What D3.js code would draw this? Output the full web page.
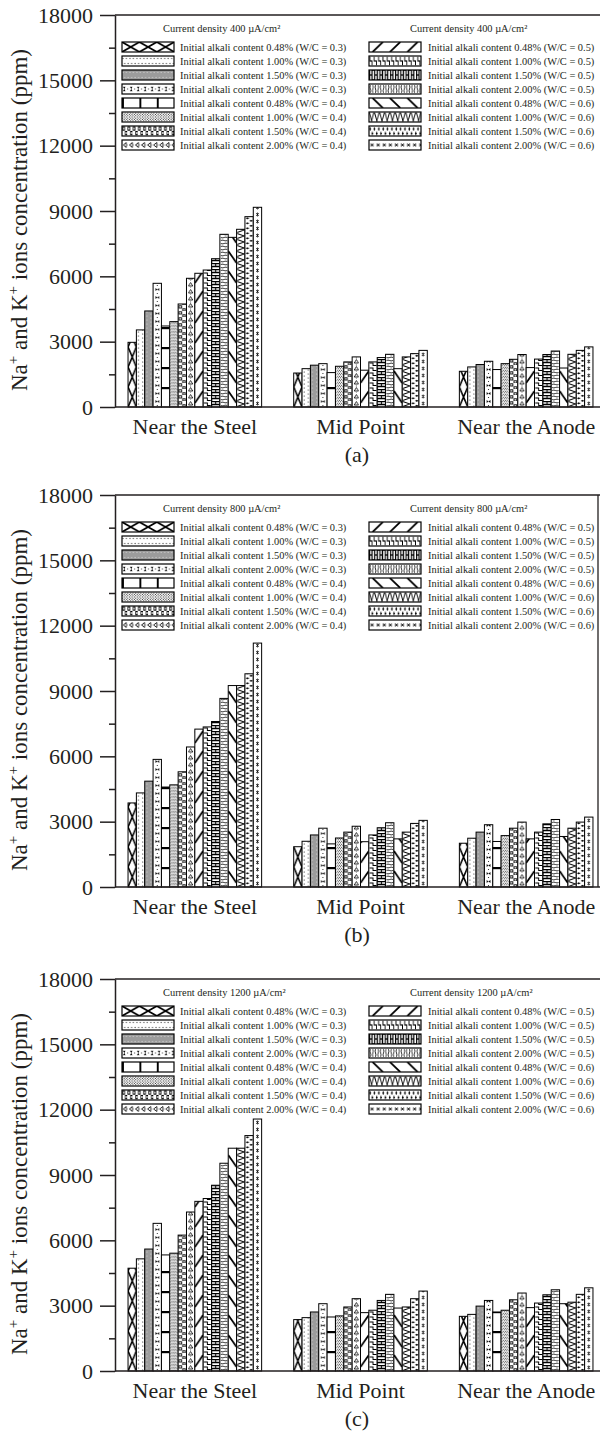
<!DOCTYPE html>
<html>
<head>
<meta charset="utf-8">
<script src="https://cdn.jsdelivr.net/npm/d3@7"></script>
<style>
  body { margin: 0; background: #fff; }
  svg { display: block; font-family: "Liberation Serif", "Times New Roman", serif; }
</style>
</head>
<body>
<svg id="chart" width="602" height="1434"></svg>
<script>
// categories and labels
var categories = ["Near the Steel", "Mid Point", "Near the Anode"];
var seriesLabels = [
    "Initial alkali content 0.48% (W/C = 0.3)",
    "Initial alkali content 1.00% (W/C = 0.3)",
    "Initial alkali content 1.50% (W/C = 0.3)",
    "Initial alkali content 2.00% (W/C = 0.3)",
    "Initial alkali content 0.48% (W/C = 0.4)",
    "Initial alkali content 1.00% (W/C = 0.4)",
    "Initial alkali content 1.50% (W/C = 0.4)",
    "Initial alkali content 2.00% (W/C = 0.4)",
    "Initial alkali content 0.48% (W/C = 0.5)",
    "Initial alkali content 1.00% (W/C = 0.5)",
    "Initial alkali content 1.50% (W/C = 0.5)",
    "Initial alkali content 2.00% (W/C = 0.5)",
    "Initial alkali content 0.48% (W/C = 0.6)",
    "Initial alkali content 1.00% (W/C = 0.6)",
    "Initial alkali content 1.50% (W/C = 0.6)",
    "Initial alkali content 2.00% (W/C = 0.6)"
];
var yTicks = [0, 3000, 6000, 9000, 12000, 15000, 18000];
var yMinorTicks = [1500, 4500, 7500, 10500, 13500, 16500];
var densities = ["400", "800", "1200"];
var captions = ["(a)", "(b)", "(c)"];

// values per panel: [near steel, mid point, near anode], 16 series each
var valuesA = [
    [2970, 3540, 4410, 5680, 3720, 3920, 4730, 5910, 6140, 6290, 6810, 7930, 7790, 8160, 8740, 9170],
    [1560, 1760, 1920, 1990, 1580, 1870, 2070, 2300, 1690, 2070, 2270, 2420, 1760, 2300, 2450, 2600],
    [1640, 1840, 1950, 2100, 1720, 1990, 2190, 2410, 1810, 2200, 2410, 2570, 1790, 2420, 2600, 2760]
];
var valuesB = [
    [3860, 4320, 4860, 5860, 4590, 4690, 5290, 6430, 7250, 7350, 7600, 8660, 9250, 9250, 9790, 11200],
    [1850, 2100, 2390, 2700, 1980, 2250, 2520, 2790, 2080, 2390, 2720, 2950, 2210, 2520, 2920, 3060],
    [2010, 2240, 2520, 2860, 2090, 2360, 2700, 2980, 2210, 2520, 2900, 3100, 2320, 2700, 2980, 3210]
];
var valuesC = [
    [4720, 5150, 5600, 6780, 5330, 5410, 6240, 7300, 7790, 7920, 8530, 9540, 10230, 10230, 10810, 11570],
    [2360, 2450, 2710, 3090, 2480, 2530, 2940, 3320, 2680, 2790, 3240, 3520, 2890, 2940, 3320, 3670],
    [2510, 2600, 2980, 3240, 2710, 2790, 3270, 3580, 2910, 3120, 3500, 3730, 3090, 3160, 3520, 3820]
];
var panelValues = [valuesA, valuesB, valuesC];
var panelTops = [15, 495, 979];

var ink = "#231f20";
var plotH = 392, axisX = 115, rightX = 600;

var svg = d3.select("#chart");

var x0 = d3.scaleBand().domain(categories).range([112, 609]).padding(0);
var groupW = 133.6;
var x1 = d3.scaleBand().domain(d3.range(16)).range([0, groupW]);
var bw = x1.bandwidth();
var y = d3.scaleLinear().domain([0, 18000]).range([plotH, 0]);

// fill patterns, one per series (tile drawn for a bar, transposed for the legend)
function line(p, d, w) {
    p.append("path").attr("d", d).attr("fill", "none").attr("stroke", "#000").attr("stroke-width", w || 1);
}
var patternStyles = [
    { h: 20, draw: function (p, w, h) { line(p, "M0,0L" + w + "," + h + "M" + w + ",0L0," + h, 1.6); } },
    { h: 4, draw: function (p, w) {
        p.append("circle").attr("cx", w * 0.25).attr("cy", 1).attr("r", 0.55);
        p.append("circle").attr("cx", w * 0.75).attr("cy", 3).attr("r", 0.55); } },
    { h: 4, bg: "#9c9c9c", draw: function (p, w) {
        p.append("circle").attr("cx", w * 0.25).attr("cy", 1).attr("r", 0.5).attr("fill", "#e6e6e6");
        p.append("circle").attr("cx", w * 0.75).attr("cy", 3).attr("r", 0.5).attr("fill", "#e6e6e6"); } },
    { h: 8, draw: function (p, w) {
        p.append("path").attr("d", "M" + w * 0.28 + ",1L" + w * 0.72 + ",4L" + w * 0.72 + ",1L" + w * 0.28 + ",4Z");
        p.append("circle").attr("cx", w * 0.5).attr("cy", 6.5).attr("r", 0.55); } },
    { h: 20, draw: function (p, w) { p.append("rect").attr("x", 0).attr("y", 0).attr("width", w).attr("height", 2.2); } },
    { h: 3, draw: function (p, w) {
        [1, 3.1, 5.2, 7.3].forEach(function (cx) { p.append("circle").attr("cx", cx * w / 8.35).attr("cy", 0.75).attr("r", 0.5); });
        [2.05, 4.15, 6.25].forEach(function (cx) { p.append("circle").attr("cx", cx * w / 8.35).attr("cy", 2.25).attr("r", 0.5); }); } },
    { h: 6, draw: function (p, w) {
        p.append("rect").attr("x", 0.8).attr("y", 0.8).attr("width", w * 0.32).attr("height", 2.2)
            .attr("fill", "none").attr("stroke", "#000").attr("stroke-width", 0.9);
        p.append("rect").attr("x", w * 0.55).attr("y", 3.8).attr("width", w * 0.32).attr("height", 2.2)
            .attr("fill", "none").attr("stroke", "#000").attr("stroke-width", 0.9); } },
    { h: 7, draw: function (p, w) {
        line(p, "M" + w * 0.25 + ",5L" + w * 0.5 + ",1.5L" + w * 0.75 + ",5Z", 0.8);
        p.append("circle").attr("cx", w * 0.5).attr("cy", 6.3).attr("r", 0.4); } },
    { h: 20, draw: function (p, w, h) { line(p, "M0," + h * 0.8 + "L" + w + "," + h * 0.2, 1.8); } },
    { h: 5, draw: function (p, w) { line(p, "M0.6,1H" + w * 0.5 + "V3.5H" + (w - 0.6), 1); } },
    { h: 6, draw: function (p, w) {
        line(p, "M0,0.5H" + w + "M0,3.5H" + w, 1.4);
        line(p, "M" + w * 0.5 + ",0.5V3.5M0,3.5V6.5M" + w + ",3.5V6.5", 1.1); } },
    { h: 6, draw: function (p, w) {
        line(p, "M1,1.5C" + w * 0.4 + ",0 " + w * 0.6 + ",3 " + (w - 1) + ",1.5M1,4.5C" + w * 0.4 + ",6 " + w * 0.6 + ",3 " + (w - 1) + ",4.5", 0.8); } },
    { h: 20, draw: function (p, w, h) { line(p, "M0," + h * 0.2 + "L" + w + "," + h * 0.8, 1.8); } },
    { h: 6, draw: function (p, w) { line(p, "M0.5,0.5L" + (w - 0.5) + ",3L0.5,5.5", 1); } },
    { h: 5, draw: function (p, w) {
        p.append("path").attr("d", "M" + w * 0.3 + ",0.2l1.1,1.1l-1.1,1.1l-1.1,-1.1Z");
        p.append("path").attr("d", "M" + w * 0.75 + ",2.7l1.1,1.1l-1.1,1.1l-1.1,-1.1Z");
        line(p, "M" + w * 0.1 + ",1.3H" + w * 0.5 + "M" + w * 0.55 + ",3.8H" + w * 0.95, 0.6); } },
    { h: 7, draw: function (p, w) {
        var cx = w * 0.5, cy = 3.5;
        line(p, "M" + (cx - 1.4) + "," + (cy - 1.4) + "L" + (cx + 1.4) + "," + (cy + 1.4) +
            "M" + (cx + 1.4) + "," + (cy - 1.4) + "L" + (cx - 1.4) + "," + (cy + 1.4) +
            "M" + cx + "," + (cy - 2) + "V" + (cy + 2), 0.7); } }
];

var defs = svg.append("defs");
patternStyles.forEach(function (ps, i) {
    ["b", "l"].forEach(function (kind) {
        var p = defs.append("pattern").attr("id", kind + i)
            .attr("patternUnits", "userSpaceOnUse")
            .attr("width", bw).attr("height", ps.h);
        if (kind === "l") p.attr("patternTransform", "matrix(0," + (10 / bw) + ",0.87,0,0,0)");
        p.append("rect").attr("width", bw).attr("height", ps.h).attr("fill", ps.bg || "#fff");
        ps.draw(p, bw, ps.h);
    });
});

panelValues.forEach(function (vals, pi) {
    var g = svg.append("g").attr("transform", "translate(0," + panelTops[pi] + ")");

    // bars
    categories.forEach(function (cat, ci) {
        var gx = x0(cat) + (x0.bandwidth() - groupW) / 2;
        vals[ci].forEach(function (v, si) {
            var bg = g.append("g").attr("transform", "translate(" + (gx + x1(si)) + "," + plotH + ")");
            bg.append("rect")
                .attr("x", 0).attr("y", y(v) - plotH)
                .attr("width", bw).attr("height", plotH - y(v))
                .attr("fill", "url(#b" + si + ")")
                .attr("stroke", "#000").attr("stroke-width", 1);
        });
    });

    // frame lines
    g.append("line").attr("x1", axisX).attr("x2", rightX).attr("y1", 0).attr("y2", 0)
        .attr("stroke", ink).attr("stroke-width", 1.5);
    g.append("line").attr("x1", axisX).attr("x2", rightX).attr("y1", plotH).attr("y2", plotH)
        .attr("stroke", ink).attr("stroke-width", 1.5);
    if (pi === 1) {
        g.append("line").attr("x1", 598).attr("x2", 598).attr("y1", 0).attr("y2", plotH)
            .attr("stroke", ink).attr("stroke-width", 1.3);
    }

    // y axis
    var ya = g.append("g").attr("transform", "translate(" + axisX + ",0)")
        .call(d3.axisLeft(y).tickValues(yTicks).tickSize(15).tickSizeOuter(0).tickPadding(7).tickFormat(d3.format("d")));
    ya.attr("font-size", 22).attr("font-family", null).attr("color", ink);
    ya.selectAll("line").attr("stroke-width", 1.5);
    ya.select(".domain").attr("stroke-width", 1.5);
    var ym = g.append("g").attr("transform", "translate(" + axisX + ",0)")
        .call(d3.axisLeft(y).tickValues(yMinorTicks).tickSize(6).tickFormat(""));
    ym.attr("color", ink);
    ym.select(".domain").remove();
    ym.selectAll("line").attr("stroke-width", 1.5);

    // x axis labels
    var xa = g.append("g").attr("transform", "translate(0," + plotH + ")")
        .call(d3.axisBottom(x0).tickSize(0));
    xa.select(".domain").remove();
    xa.attr("font-size", 22).attr("font-family", null).attr("color", ink);
    xa.selectAll("text").attr("dy", null).attr("y", 27);

    // caption
    g.append("text").attr("x", 357).attr("y", plotH + 55).attr("text-anchor", "middle")
        .attr("font-size", 22).attr("fill", ink).text(captions[pi]);

    // y title
    var yt = g.append("text").attr("transform", "translate(27," + (plotH / 2 + 9) + ") rotate(-90)")
        .attr("text-anchor", "middle").attr("font-size", 23).attr("fill", ink);
    yt.append("tspan").text("Na");
    yt.append("tspan").attr("font-size", 15).attr("dy", -9).text("+");
    yt.append("tspan").attr("dy", 9).text(" and K");
    yt.append("tspan").attr("font-size", 15).attr("dy", -9).text("+");
    yt.append("tspan").attr("dy", 9).text(" ions concentration (ppm)");

    // legends
    var cols = [{ sx: 122, tx: 180, title: 163 }, { sx: 369, tx: 428, title: 410 }];
    cols.forEach(function (c, k) {
        g.append("text").attr("x", c.title).attr("y", 17).attr("font-size", 10.4).attr("fill", ink)
            .text("Current density " + densities[pi] + " \u00b5A/cm\u00b2");
        for (var r = 0; r < 8; r++) {
            var si = k * 8 + r;
            var sw = g.append("g").attr("transform", "translate(" + c.sx + "," + (27 + 14 * r) + ")");
            sw.append("rect").attr("width", 52).attr("height", 10)
                .attr("fill", "url(#l" + si + ")").attr("stroke", "#000").attr("stroke-width", 1.2);
            g.append("text").attr("x", c.tx).attr("y", 27 + 14 * r + 8.6)
                .attr("font-size", 10.4).attr("fill", ink).text(seriesLabels[si]);
        }
    });
});
</script>
</body>
</html>
